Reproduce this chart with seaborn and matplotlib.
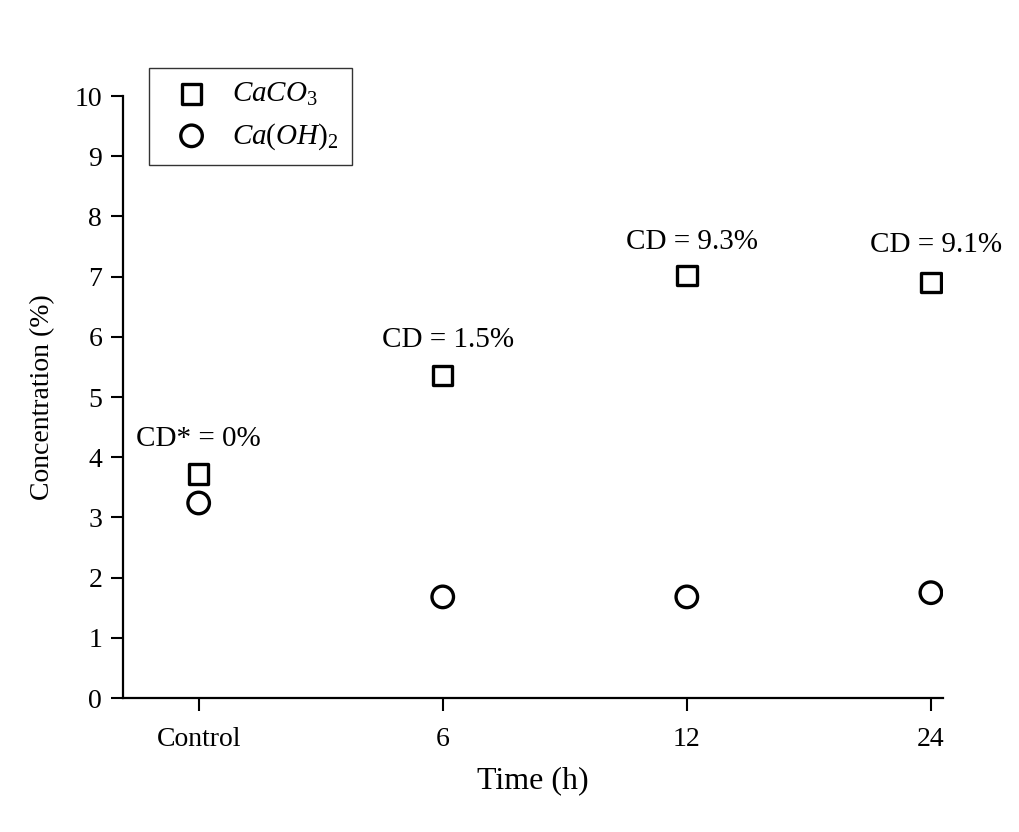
import pandas as pd
import seaborn as sns
import matplotlib.pyplot as plt

# values
times = ["Control", "6", "12", "24"]
caco3 = [3.72, 5.36, 7.02, 6.90]
caoh2 = [3.24, 1.68, 1.68, 1.75]
cd_labels = ["CD* = 0%", "CD = 1.5%", "CD = 9.3%", "CD = 9.1%"]
cd_y = [4.3, 5.95, 7.57, 7.53]

df1 = pd.DataFrame({"Time": times, "Conc": caco3})
df2 = pd.DataFrame({"Time": times, "Conc": caoh2})

sns.set_style("ticks")
plt.rcParams["font.family"] = ["Liberation Serif", "DejaVu Serif"]
plt.rcParams["mathtext.fontset"] = "custom"
plt.rcParams["mathtext.rm"] = "Liberation Serif"
plt.rcParams["mathtext.it"] = "Liberation Serif:italic"
plt.rcParams["text.color"] = "black"
plt.rcParams["axes.labelcolor"] = "black"
plt.rcParams["xtick.color"] = "black"
plt.rcParams["ytick.color"] = "black"

fig = plt.figure(figsize=(10.2, 8.32), dpi=100)
ax = fig.add_axes([0.1206, 0.161, 0.804, 0.7236])

sns.scatterplot(data=df1, x="Time", y="Conc", marker="s", s=195, fc="none",
                ec="black", linewidth=2.4, label=r"$\mathit{CaCO}_{\mathit{3}}$", ax=ax, zorder=3)
sns.scatterplot(data=df2, x="Time", y="Conc", marker="o", s=240, fc="none",
                ec="black", linewidth=2.4, label=r"$\mathit{Ca(OH)}_{\mathit{2}}$", ax=ax, zorder=3)

# CD annotations above the CaCO3 points
for i, (txt, y) in enumerate(zip(cd_labels, cd_y)):
    ax.text(i + (0.02 if i else 0.0), y, txt, ha="center", va="center", fontsize=21)

ax.set_xlim(-0.31, 3.05)
ax.set_ylim(0, 10)
ax.set_yticks(range(0, 11))
ax.set_xlabel("Time (h)", fontsize=23, labelpad=10)
ax.set_ylabel("Concentration (%)", fontsize=20, labelpad=14)
ax.tick_params(axis="both", labelsize=20, width=1.5, length=9, direction="out")
ax.tick_params(axis="x", pad=12)
ax.tick_params(axis="y", pad=6)
sns.despine(ax=ax)
for sp in ["left", "bottom"]:
    ax.spines[sp].set_linewidth(1.6)
    ax.spines[sp].set_color("black")

leg = ax.legend(loc="upper left", bbox_to_anchor=(0.032, 1.047), fontsize=21,
                frameon=True, fancybox=False, edgecolor="black", borderpad=0.45,
                handletextpad=0.4, labelspacing=0.45, borderaxespad=0)
leg.get_frame().set_linewidth(1.0)

fig.savefig("out.png", dpi=100, facecolor="white")
